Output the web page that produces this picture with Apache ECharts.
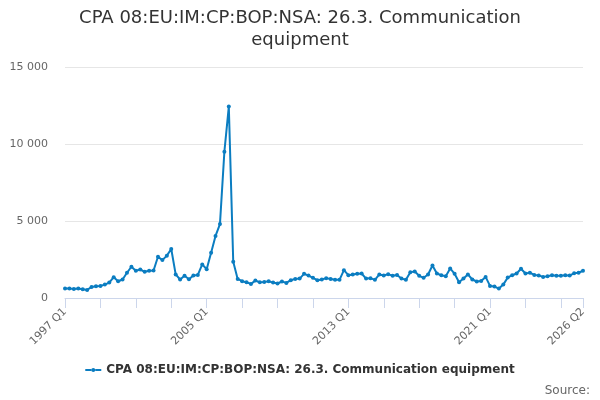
<!DOCTYPE html>
<html>
<head>
<meta charset="utf-8">
<script src="https://cdn.jsdelivr.net/npm/echarts@6/dist/echarts.min.js"></script>
<style>
  html, body { margin: 0; padding: 0; background: #fff; }
  #main { width: 600px; height: 400px; }
</style>
</head>
<body>
<div id="main"></div>
<script>
// series name
var seriesName = 'CPA 08:EU:IM:CP:BOP:NSA: 26.3. Communication equipment';

// quarterly values, 1997 Q1 .. 2026 Q2
var values = [
  610, 610, 590, 610,
  570, 520, 720, 760,
  780, 870, 1000, 1350,
  1090, 1200, 1640, 2030,
  1770, 1850, 1700, 1770,
  1790, 2680, 2460, 2750,
  3180, 1530, 1200, 1440,
  1220, 1460, 1500, 2180,
  1870, 2940, 4030, 4800,
  9500, 12430, 2350, 1240,
  1090, 1025, 915, 1130,
  1025, 1045, 1090, 1000,
  940, 1070, 980, 1155,
  1240, 1260, 1570, 1460,
  1310, 1155, 1200, 1290,
  1240, 1180, 1180, 1810,
  1480, 1530, 1570, 1590,
  1260, 1290, 1180, 1530,
  1460, 1550, 1440, 1500,
  1260, 1180, 1680, 1720,
  1440, 1310, 1530, 2110,
  1590, 1480, 1420, 1920,
  1570, 1020, 1260, 1530,
  1200, 1070, 1110, 1370,
  785, 740, 610, 870,
  1330, 1480, 1590, 1900,
  1590, 1640, 1500, 1460,
  1370, 1420, 1480, 1440,
  1440, 1480, 1460, 1610,
  1640, 1770
];

// quarter labels
var categories = [];
for (var y = 1997; y <= 2026; y++) {
  for (var q = 1; q <= 4; q++) {
    if (categories.length < values.length) categories.push(y + ' Q' + q);
  }
}

// which labels are shown on the x axis
var shownLabels = ['1997 Q1', '2005 Q1', '2013 Q1', '2021 Q1', '2026 Q2'];

var lastIdx = categories.length - 1;
var myChart = echarts.init(document.getElementById('main'));
var option = {
  animation: false,
  title: {
    text: 'CPA 08:EU:IM:CP:BOP:NSA: 26.3. Communication\nequipment',
    left: 'center',
    top: 2,
    textStyle: {
      fontFamily: 'DejaVu Sans',
      fontSize: 18,
      fontWeight: 'normal',
      color: '#333',
      lineHeight: 22
    }
  },
  color: ['#0b7dc1'],
  grid: {
    left: 65,
    right: 17,
    top: 67,
    bottom: 102
  },
  legend: {
    bottom: 19,
    left: 'center',
    // line with a small dot in the middle
    icon: 'path://M0,2 L6,2 L6,4 L0,4 Z M10,2 L16,2 L16,4 L10,4 Z M6,3 A2,2 0 1,1 10,3 A2,2 0 1,1 6,3 Z',
    itemWidth: 16,
    itemHeight: 6,
    itemGap: 5,
    itemStyle: { color: '#0b7dc1' },
    textStyle: {
      fontFamily: 'DejaVu Sans',
      fontSize: 12,
      fontWeight: 'bold',
      color: '#333'
    },
    data: [seriesName]
  },
  graphic: [{
    type: 'text',
    right: 10,
    bottom: 3,
    style: {
      text: 'Source:',
      fontFamily: 'DejaVu Sans',
      fontSize: 12,
      fill: '#666'
    }
  }],
  xAxis: {
    type: 'category',
    boundaryGap: false,
    data: categories,
    axisLine: { lineStyle: { color: '#ccd6eb' } },
    axisTick: {
      lineStyle: { color: '#ccd6eb' },
      length: 10,
      interval: function (idx) { return idx % 8 === 0 || idx === lastIdx; }
    },
    axisLabel: {
      rotate: 45,
      fontFamily: 'DejaVu Sans',
      fontSize: 11,
      color: '#666',
      margin: 12,
      interval: function (idx, val) { return shownLabels.indexOf(val) >= 0; }
    },
    splitLine: { show: false }
  },
  yAxis: {
    type: 'value',
    min: 0,
    max: 15000,
    interval: 5000,
    axisLine: { show: false },
    axisTick: { show: false },
    axisLabel: {
      fontFamily: 'DejaVu Sans',
      fontSize: 11,
      color: '#666',
      margin: 17,
      formatter: function (v) {
        return String(v).replace(/\B(?=(\d{3})+(?!\d))/g, ' ');
      }
    },
    splitLine: { lineStyle: { color: '#e6e6e6' } }
  },
  series: [{
    name: seriesName,
    type: 'line',
    data: values,
    symbol: 'circle',
    symbolSize: 4,
    showAllSymbol: true,
    lineStyle: { width: 2 },
    itemStyle: { color: '#0b7dc1' }
  }]
};
myChart.setOption(option, true);
</script>
</body>
</html>
